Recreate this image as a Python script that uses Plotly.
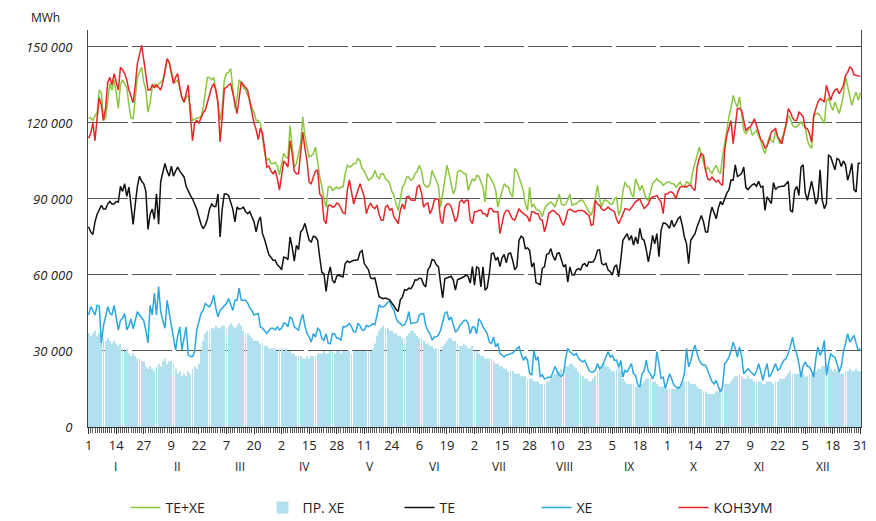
import plotly.graph_objects as go
import numpy as np

# ---------------- data (thousand MWh, daily, one year) ----------------
te_jan = [79, 77, 76, 81, 84, 86, 87.5, 86, 86, 88, 89, 88, 88, 89, 88.8, 95, 93, 96, 91, 94.7, 88, 80, 88, 95, 99, 97, 96, 93, 78, 84, 86]
te_feb = [82, 92, 80, 97, 101, 104, 101, 99, 103, 99, 101, 102.6, 101, 100, 98.7, 95, 93, 91.4, 90, 88, 86, 83, 80, 78.3, 79.6, 82, 86, 88]
te_mar = [87, 87, 92, 75, 86, 92, 92, 91.4, 89, 86, 81, 86.8, 86, 86.2, 86.8, 85, 84.2, 85, 83, 81, 77, 81, 83, 76.3, 74, 70.4, 68, 67, 65.8, 65.8, 64]
te_apr = [63.3, 62, 67, 66.8, 66, 75, 71, 65.5, 71.7, 70, 77, 78, 80.4, 77, 73.7, 73, 75.3, 75, 73.7, 67, 61, 60.5, 53.5, 60, 63.2, 58, 56.8, 59.5, 60, 59.5]
te_may = [59.3, 64.5, 65.5, 65, 65.5, 65.8, 65.8, 66, 69, 69.6, 64.5, 63.3, 62, 58.8, 58.5, 58.8, 55, 51.4, 51, 50.6, 50.9, 50.5, 50.2, 49, 47.6, 46.5, 45.6, 50.2, 51.3, 54.2, 54]
te_jun = [54.8, 54.6, 56, 58.1, 58, 58.8, 58.5, 56.2, 55.3, 62, 63.3, 66.1, 65.8, 64, 63.3, 56.8, 51, 58.5, 58.8, 59, 59.5, 58, 54, 58.1, 58.5, 58.8, 59.3, 60.1, 59.3, 56.8]
te_jul = [63.3, 56, 63.2, 62.7, 55.3, 63.2, 54, 55, 60.5, 68.4, 68.7, 65.8, 67, 63.3, 66.8, 68.1, 64.8, 68.4, 68.7, 65.8, 62, 63.3, 73.7, 75.3, 74.6, 70.4, 70.7, 69.7, 63.2, 64.8, 57]
te_aug = [56.6, 56.2, 62.7, 63.2, 68.1, 68.4, 70.4, 67.5, 65.8, 68.5, 68.7, 65.8, 63.2, 64.1, 57.2, 63.2, 60.1, 60, 62, 62.5, 62, 64, 64.5, 63.3, 65.2, 65, 65.2, 66.8, 69.7, 70, 64.5]
te_sep = [64, 64.6, 62, 61.3, 60, 63.2, 64, 59.3, 66, 73.7, 75, 76.3, 73.7, 75.6, 71.8, 75, 72.3, 78.4, 74.3, 73.7, 70, 65.2, 69.7, 75.6, 72.3, 76.3, 67.2, 77.6, 80.5, 80.4]
te_oct = [79.6, 78.4, 81.6, 79, 80.4, 82.2, 83, 79.7, 75, 72.4, 64.5, 73.7, 75, 76.3, 79, 81, 83.5, 81, 77, 77, 83, 86.8, 84.4, 82.2, 86.4, 89, 87.7, 90.3, 92.3, 93.6, 97.5]
te_nov = [97.4, 103.5, 98.9, 99.3, 100.2, 102.6, 94.5, 93.7, 94.7, 95.6, 96, 95, 97, 94.7, 95, 85.5, 90.8, 89.5, 88.2, 96.5, 93.7, 94.7, 95, 95, 95, 96, 97, 85.5, 84.8, 93.4]
te_dec = [95, 91.4, 102.6, 103.5, 92.5, 89.5, 93.7, 97, 92.8, 88, 90.3, 101.5, 89.6, 86.2, 88.2, 107.2, 106.7, 104, 101.5, 106, 105.4, 102.8, 105, 103.5, 97.4, 100.2, 104, 93.7, 92.8, 104, 104.2]

xe_jan = [44.2, 47.5, 46, 44.2, 48, 47.6, 33.2, 40, 43.5, 47.5, 45, 44.2, 48, 43, 38.3, 42, 43, 44.8, 38.3, 40, 42.6, 38.8, 42, 45.5, 44.2, 43, 42, 38, 33.2, 48, 44.2]
xe_feb = [52.9, 44.2, 55.4, 45.5, 42, 39, 50, 45, 39, 35, 30.4, 36, 39.5, 30.4, 35, 39.5, 28.5, 27.8, 27.8, 29.8, 38.3, 42, 44.8, 46, 48.7, 48, 47.4, 49]
xe_mar = [52, 47, 43.5, 46, 47, 48, 48.7, 50.7, 48, 46, 50, 50, 54.8, 50, 50, 50, 49, 47, 46, 44.2, 44.5, 44.8, 39.5, 39, 38, 37, 38, 39, 39, 38.3, 39.5]
xe_apr = [38.3, 39, 41, 40.9, 39.5, 43.5, 42.6, 39.5, 38.9, 38.2, 42, 44.5, 40, 36.8, 35.6, 33.5, 36.9, 35.5, 38.9, 38.2, 35, 34.2, 36.8, 33, 32.9, 36.9, 36.8, 35, 35, 34.2]
xe_may = [39.6, 39.5, 40, 40.9, 39.5, 37.6, 37.5, 40.9, 40, 38.3, 38.2, 40.1, 39.6, 40, 40.8, 40.3, 44, 48.2, 47.4, 47.5, 48, 49.3, 49.5, 47.4, 46.2, 43, 41.4, 40.9, 40, 40.3, 42]
xe_jun = [45.5, 40.8, 41, 40.9, 41.4, 44.2, 44.7, 44.8, 40, 38, 36.9, 34.3, 35.5, 35.5, 36.3, 38.2, 42, 44.8, 45.4, 42.2, 43.4, 40, 37.6, 38.2, 40, 40.9, 42, 42.2, 40.8, 36.8]
xe_jul = [39.5, 39.5, 36.8, 42.7, 41.6, 39.5, 38.2, 36.9, 33.5, 33, 35.5, 31.6, 33, 29, 28.4, 27.6, 28.4, 28.5, 29, 29.1, 30, 31, 31.7, 29, 26.3, 27.8, 26.3, 21, 20.6, 30.3, 26.3]
xe_aug = [27.8, 19.7, 20.6, 19, 19.3, 19.7, 19.5, 22, 23.9, 22, 20.4, 20, 21, 27.2, 31, 29.7, 29.1, 28.3, 29, 27.2, 26.3, 25.7, 26.3, 24, 22.4, 21.7, 21.7, 22.4, 25, 23, 23.7]
xe_sep = [25.6, 28, 29.7, 27.6, 28.3, 26.3, 26.4, 23.7, 26.3, 19.7, 22.4, 21.7, 23.7, 25, 21, 20.4, 16.6, 15.8, 21, 22, 26.4, 22, 21, 19, 21, 29.7, 25, 19.2, 19.7, 15.2]
xe_oct = [18, 21, 19, 16.6, 15.8, 15.2, 16, 18, 21, 31, 23.7, 26, 30, 32.3, 29, 26.4, 25, 24.4, 24.4, 22, 19.7, 18, 17, 18.4, 16, 13.8, 16, 25, 26, 27.6, 30]
xe_nov = [33.5, 31, 27.6, 31.6, 28, 21, 22, 23, 22, 21, 20.4, 22, 25, 22, 18.4, 22, 25, 19.7, 21, 23, 25, 22.4, 23, 25, 26.4, 27, 29, 32, 35.5, 31]
xe_dec = [29, 25, 19.7, 24, 25.7, 24, 23.7, 22, 19.7, 27, 31.6, 28.3, 30, 34.2, 20.4, 25, 29, 28, 27.6, 25, 21.7, 24, 29.7, 33, 36.8, 33.5, 35, 36.2, 33, 30.3, 31]

pr_jan = [37, 36, 37, 38, 36, 37, 37, 35, 34, 35, 34, 33, 34, 33, 32, 33, 31, 30, 31, 29, 28, 29, 28, 27, 27, 26, 26, 24, 23, 24, 23]
pr_feb = [22, 24, 25, 24, 26, 27, 25, 26, 26, 25, 23, 21, 22, 20, 21, 20, 22, 21, 23, 24, 23, 25, 30, 34, 37, 38, 38, 39]
pr_mar = [39, 40, 39, 39, 40, 40, 39, 40, 41, 40, 39, 40, 41, 40, 38, 37, 37, 36, 35, 34, 34, 34, 33, 33, 32, 32, 31, 31, 31, 31, 30]
pr_apr = [31, 31, 30, 31, 30, 30, 29, 29, 28, 28, 28, 27, 27, 28, 27, 28, 28, 28, 29, 29, 29, 30, 29, 29, 30, 30, 29, 30, 30, 29]
pr_may = [30, 30, 30, 30, 29, 30, 30, 30, 30, 30, 30, 30, 30, 30, 31, 33, 36, 38, 39, 40, 39, 39, 38, 38, 37, 37, 36, 36, 35, 35, 36]
pr_jun = [37, 38, 38, 37, 36, 35, 35, 34, 33, 33, 32, 32, 31, 31, 31, 30, 32, 33, 34, 35, 35, 34, 34, 33, 32, 32, 33, 32, 31, 31]
pr_jul = [32, 30, 30, 29, 28, 28, 27, 27, 27, 27, 26, 25, 25, 24, 24, 23, 23, 22, 22, 22, 21, 21, 21, 20, 20, 20, 19, 19, 19, 18, 18]
pr_aug = [18, 17, 17, 17, 18, 18, 19, 20, 21, 22, 22, 23, 23, 24, 24, 25, 25, 24, 23, 22, 21, 20, 19, 19, 18, 18, 19, 20, 22, 24, 24]
pr_sep = [25, 24, 24, 23, 22, 22, 23, 24, 22, 19, 18, 17, 17, 17, 17, 16, 16, 16, 17, 18, 19, 19, 19, 18, 18, 17, 16, 16, 16, 15]
pr_oct = [15, 15, 15, 15, 15, 16, 16, 17, 18, 18, 18, 17, 17, 17, 16, 15, 15, 14, 14, 13, 13, 13, 13, 14, 14, 15, 16, 17, 17, 17, 18]
pr_nov = [19, 20, 20, 21, 20, 19, 19, 20, 19, 19, 18, 18, 18, 18, 17, 17, 18, 18, 18, 17, 18, 18, 19, 19, 19, 20, 21, 22, 21, 21]
pr_dec = [21, 21, 22, 21, 20, 20, 21, 21, 22, 22, 23, 23, 24, 24, 25, 24, 23, 22, 23, 22, 22, 21, 21, 22, 22, 23, 22, 22, 23, 22, 22]

kon_jan = [114, 116, 120, 113, 122, 130, 127, 121, 126, 136, 138, 135, 139.5, 136, 133, 142, 141, 139.5, 137, 133, 130, 128, 135, 143.4, 147, 150.6, 145, 138, 133, 133, 135]
kon_feb = [134, 135, 134, 133, 136, 141, 145.4, 144, 140, 135.5, 138, 139.5, 134, 130, 128.3, 132, 135, 123, 113, 120, 121, 120, 122, 124, 125, 128, 131, 134]
kon_mar = [135.5, 133, 128, 112.5, 122, 133.5, 134, 135, 135.5, 132, 128, 123.7, 130, 136.2, 135, 134, 133, 128.3, 124, 120, 117.4, 113.4, 118, 116, 110, 102.6, 103, 101, 100, 101.3, 98]
kon_apr = [93.5, 99, 105, 104, 102.6, 113, 108, 101, 100, 100, 108, 116.4, 110, 105, 96.7, 96, 98.7, 101, 101.4, 92, 91, 81.7, 80.3, 87.5, 87.6, 86.8, 87, 88.4, 88, 86]
kon_may = [84.5, 84.2, 93.5, 97.4, 92, 88, 90.8, 93.5, 96, 93.5, 90.8, 84.2, 86.8, 88.4, 86.8, 86.2, 87.6, 84, 81.6, 81.7, 86.8, 87.5, 85.6, 86.2, 83, 81.7, 80.3, 85.6, 88, 86, 90.8]
kon_jun = [91, 89.6, 89.5, 89.5, 94.7, 95.4, 92.4, 86.8, 88, 88.4, 84.2, 86, 89.5, 90, 90, 81.7, 80.3, 86.8, 88, 88, 87, 84, 81, 83, 88.8, 89.6, 88.4, 89.5, 89.5, 81.7]
kon_jul = [80.3, 85, 85, 85.5, 85.6, 84.2, 84.2, 83, 86.2, 86.2, 85, 85, 85, 76.3, 80, 84.2, 85.5, 85.5, 83.5, 82, 81.6, 84, 86.2, 85, 84.2, 83.5, 83, 81, 85, 85, 84.2]
kon_aug = [84.2, 82, 81.6, 77, 80, 84.2, 85, 85.5, 85, 84, 83.5, 81, 79.6, 82, 85.5, 86, 85.5, 85, 85, 85.5, 85.5, 85.5, 85, 84, 83.5, 79.6, 80, 89.5, 88, 87.5, 86]
kon_sep = [85.5, 86, 86.8, 86, 85.5, 85, 82, 80.3, 82, 84.2, 86.2, 86, 85.5, 86.5, 88, 89, 89.5, 90, 88, 86.2, 87, 88, 90, 90.8, 91, 91.4, 90, 88.8, 84.2, 92]
kon_oct = [92, 92.8, 92.8, 92, 90, 93, 94.7, 95, 95, 94.7, 95.4, 95.4, 94, 93.4, 102.6, 106, 107.9, 107.2, 101.3, 98, 97.4, 98.7, 97.5, 96.7, 97.4, 96, 95.4, 109.2, 115.1, 118, 121]
kon_nov = [111.8, 120, 125.7, 125.7, 125, 121, 117, 118, 118.4, 119.7, 121.7, 119, 115.8, 113.5, 112.5, 110, 111, 113.2, 116.4, 117, 117.8, 114.5, 113, 111.8, 116, 119.7, 125.7, 124.3, 122, 121]
kon_dec = [121, 124.3, 123.5, 122.4, 118, 117.8, 115.8, 112.5, 123, 125.5, 128.3, 129.6, 129, 128.3, 134.9, 132, 129, 131.6, 133, 133.5, 131.6, 133, 134.9, 138.8, 140, 142.1, 141.4, 139, 138.8, 138.4, 138.4]

tx_jan = [122, 122, 121, 123, 124, 133, 132, 121, 122, 130, 135.5, 133, 137, 132, 125.7, 135, 137, 135.5, 134, 127, 122, 121.7, 130, 138, 140, 142, 136, 133, 124.3, 128, 134]
tx_feb = [135.5, 134, 135.5, 136, 137, 140, 144.7, 144, 140, 137, 136, 137, 134, 130, 128, 130, 131, 125, 121, 121.5, 122, 122, 122.5, 125.7, 132, 138, 138, 137]
tx_mar = [138, 133, 128, 121, 126, 137, 139.5, 140, 141.5, 134, 125.7, 130, 137, 136, 134, 133, 131, 129, 126, 124.3, 121, 121, 120, 113, 108, 105.3, 106, 104, 104, 104.5, 103]
tx_apr = [99.5, 104, 108, 106.6, 106, 119, 110, 102.6, 104, 108, 111.8, 122.4, 115, 110.5, 106.6, 107, 108, 110.5, 104, 98.7, 95, 90, 86.8, 94.7, 95, 93.4, 94, 94.7, 94, 94.7]
tx_may = [94.7, 100, 103.3, 102.6, 103, 104, 104, 106, 105, 102, 101, 99, 97.4, 98, 98.7, 101.3, 99, 98, 100, 100, 98, 97.4, 96, 93, 91.4, 88, 85.5, 90, 94.7, 96, 98.7]
tx_jun = [98.7, 97.4, 98, 100, 101, 103.3, 101, 96, 95, 94.7, 96, 101.3, 99, 97.4, 95, 86.8, 92, 97.4, 103.3, 100, 96, 92, 94, 100.6, 101.3, 101, 100, 100, 93.4, 95.4]
tx_jul = [98, 97, 99.3, 99, 97, 94.7, 88.8, 100, 99, 97.4, 96, 93.4, 86.8, 90, 93.4, 96, 95, 94.7, 92, 90.8, 102, 101, 98.7, 96, 93.4, 88, 85.5, 94.7, 86.8, 88, 86]
tx_aug = [85.5, 85, 83, 86, 87.5, 88, 88.8, 88, 86.8, 89.5, 92, 88, 87.5, 88, 89.5, 92, 87.5, 88, 88, 89, 89.5, 89.5, 88, 86.8, 85, 83.5, 86.2, 90, 95.4, 90, 87]
tx_sep = [89.5, 89.5, 89, 88, 88, 90, 90.8, 83.5, 86, 93, 96.7, 95, 94.7, 92, 90.8, 98, 96, 93.4, 95.4, 93, 90, 89.5, 93, 96, 97, 98, 97, 96.7, 95.4, 96]
tx_oct = [96.7, 96.7, 96, 96, 94.7, 95.5, 96.7, 95, 94.7, 96.7, 96.5, 96, 101, 104, 108, 110.5, 107.2, 104, 101.3, 102.6, 101, 100, 102, 103.3, 101, 100, 106.6, 112, 115.8, 122.4, 126]
tx_nov = [130.9, 128, 126.3, 130.3, 123, 117.1, 115.8, 117, 118.4, 115.1, 116, 117.1, 115, 113.2, 110, 107.9, 111, 114.5, 113, 112.5, 117.1, 114, 111.8, 114, 115.8, 119, 123, 121.7, 119.1, 118.4]
tx_dec = [118.4, 119.5, 120.4, 119, 118.4, 113.2, 111, 110, 122.4, 123.7, 123.7, 123, 121, 119.7, 128.9, 129.6, 127, 125, 128.3, 126, 123.7, 127, 130.9, 138.2, 134, 130.9, 127, 130, 132.2, 129, 132]

tick_labels = ["1", "14", "27", "9", "22", "7", "20", "2", "15", "28", "11", "24", "6", "19",
               "2", "15", "28", "10", "23", "5", "18", "1", "14", "27", "9", "22", "5", "18", "31"]
month_names = ["I", "II", "III", "IV", "V", "VI", "VII", "VIII", "IX", "X", "XI", "XII"]
month_lengths = [31, 28, 31, 30, 31, 30, 31, 31, 30, 31, 30, 31]
y_ticks = [0, 30000, 60000, 90000, 120000, 150000]
y_tick_text = ["0", "30 000", "60 000", "90 000", "120 000", "150 000"]

series_names = ["ТЕ+ХЕ", "ПР. ХЕ", "ТЕ", "ХЕ", "КОНЗУМ"]

# ---------------- assemble ----------------
def year(*months):
    out = []
    for m in months:
        out.extend(m)
    return np.array(out) * 1000

te = year(te_jan, te_feb, te_mar, te_apr, te_may, te_jun, te_jul, te_aug, te_sep, te_oct, te_nov, te_dec)
xe = year(xe_jan, xe_feb, xe_mar, xe_apr, xe_may, xe_jun, xe_jul, xe_aug, xe_sep, xe_oct, xe_nov, xe_dec)
pr = year(pr_jan, pr_feb, pr_mar, pr_apr, pr_may, pr_jun, pr_jul, pr_aug, pr_sep, pr_oct, pr_nov, pr_dec)
kon = year(kon_jan, kon_feb, kon_mar, kon_apr, kon_may, kon_jun, kon_jul, kon_aug, kon_sep, kon_oct, kon_nov, kon_dec)
tx = year(tx_jan, tx_feb, tx_mar, tx_apr, tx_may, tx_jun, tx_jul, tx_aug, tx_sep, tx_oct, tx_nov, tx_dec)

FONT = "Open Sans"
TXT = "#222222"
OFF = 8                      # page body margin in the browser
W, H = 876 - OFF, 521 - OFF
ML, MT = 88 - OFF, 30 - OFF
MR = W - (861 - OFF)
MB = H - (427 - OFF)
PW, PH = W - ML - MR, H - MT - MB

fig = go.Figure()
fig.add_trace(go.Bar(x=np.arange(len(pr)), y=pr, name=series_names[1],
                     marker=dict(color="#b1e0ee", line=dict(width=0)), legendrank=2))
fig.add_trace(go.Scatter(x=np.arange(len(xe)), y=xe, mode="lines", name=series_names[3],
                         line=dict(color="#2aa7df", width=1.5), legendrank=4))
fig.add_trace(go.Scatter(x=np.arange(len(te)), y=te, mode="lines", name=series_names[2],
                         line=dict(color="#111111", width=1.5), legendrank=3))
fig.add_trace(go.Scatter(x=np.arange(len(tx)), y=tx, mode="lines", name=series_names[0],
                         line=dict(color="#8cc63f", width=1.5), legendrank=1))
fig.add_trace(go.Scatter(x=np.arange(len(kon)), y=kon, mode="lines", name=series_names[4],
                         line=dict(color="#e8262a", width=1.5), legendrank=5))

# month labels (under each month)
start = 0
for name, ln in zip(month_names, month_lengths):
    fig.add_annotation(x=start + ln / 2 - 3, y=(427 - 466) / PH, xref="x", yref="paper", yanchor="middle",
                       text=name, showarrow=False, font=dict(family=FONT, size=12, color=TXT))
    start += ln

fig.add_annotation(x=(45 - 88) / PW, y=(427 - 17) / PH, xref="paper", yref="paper", xanchor="center",
                   yanchor="middle", text="MWh", showarrow=False,
                   font=dict(family=FONT, size=12, color=TXT))

fig.update_layout(
    width=W, height=H,
    margin=dict(l=ML, r=MR, t=MT, b=MB, autoexpand=False),
    paper_bgcolor="white", plot_bgcolor="white",
    bargap=0.58,
    font=dict(family=FONT, size=13, color=TXT),
    showlegend=True,
    legend=dict(orientation="h", xref="container", yref="container", x=(468 - OFF) / W, xanchor="center",
                y=1 - (508 - OFF) / H, yanchor="middle",
                entrywidth=92, font=dict(family=FONT, size=14, color=TXT), traceorder="normal"),
    xaxis=dict(range=[-0.3, 364.3], tickmode="array", tickvals=list(range(0, 365, 13)), ticktext=tick_labels,
               ticks="outside", ticklen=6, tickcolor="#333", showgrid=False, zeroline=False,
               showline=True, linecolor="#333", linewidth=1.2, automargin=False,
               minor=dict(dtick=1, tick0=0, ticks="outside", ticklen=5, tickcolor="#555", showgrid=False),
               tickfont=dict(family=FONT, size=13, color=TXT)),
    yaxis=dict(range=[0, 156700], tickmode="array", tickvals=y_ticks,
               ticktext=["<i>" + t + "</i>" for t in y_tick_text],
               showgrid=True, gridcolor="#555", gridwidth=1, griddash="40px,4px",
               zeroline=False, showline=True, mirror=True, linecolor="#444", linewidth=1.2,
               ticks="", ticklabelstandoff=12, automargin=False,
               tickfont=dict(family=FONT, size=13, color=TXT)),
)

fig.write_html("out.html")
